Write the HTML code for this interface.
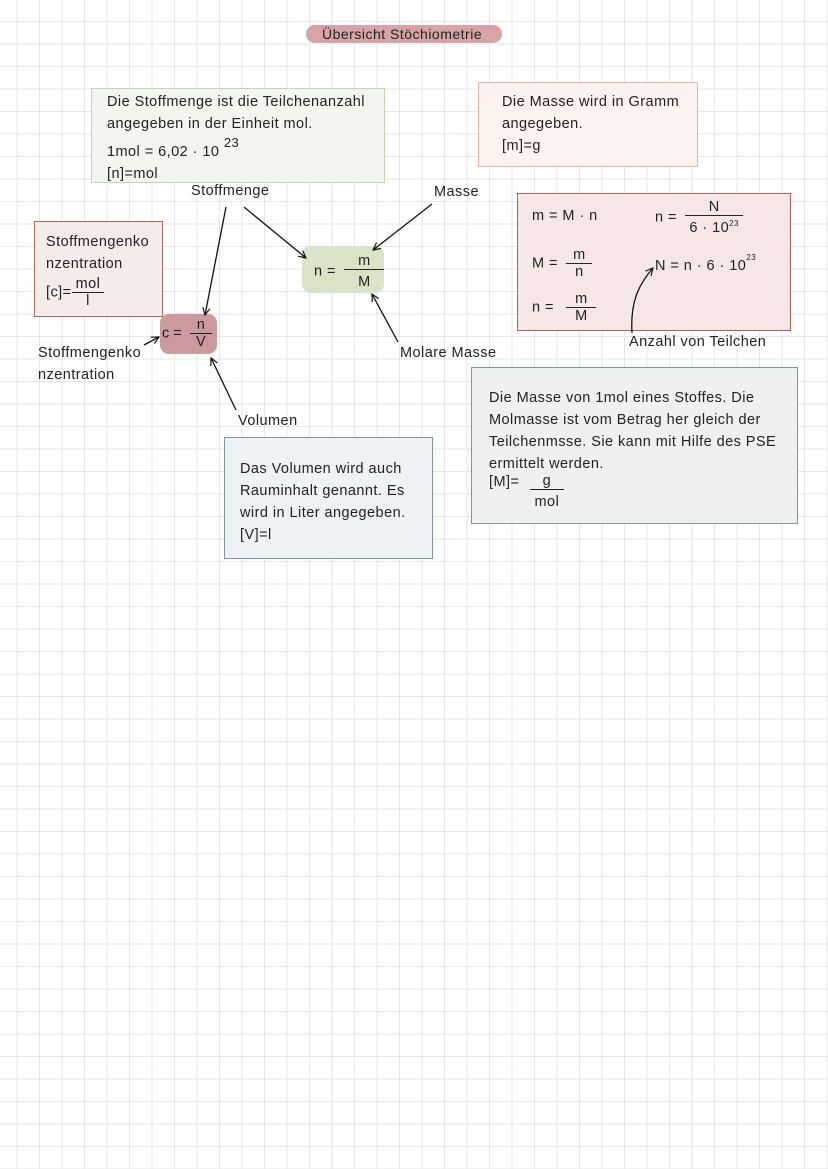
<!DOCTYPE html>
<html><head><meta charset="utf-8"><style>
body{margin:0;width:828px;height:1169px;position:relative;overflow:hidden;font-family:"Liberation Sans","DejaVu Sans",sans-serif;font-size:14.5px;letter-spacing:0.45px;color:#222;
background-color:#fff;background-image:linear-gradient(#e6e6e6 1px,transparent 1px),linear-gradient(90deg,#e6e6e6 1px,transparent 1px);background-size:22.5px 22.5px;background-position:16.5px 21px}
.a{position:absolute;line-height:22px;white-space:nowrap}
.box{position:absolute;box-sizing:border-box}
.fr{display:inline-block;vertical-align:middle;text-align:center;line-height:16px;margin-left:4px}
.fr span{display:block;padding:0 4px}
.fr span:first-child{border-bottom:1px solid #222}
</style></head><body>
<div class="box" style="left:306px;top:25px;width:196px;height:18px;background:#d6a3a7;border-radius:9px"></div>
<div class="a" style="left:322px;top:23px;font-size:14px;letter-spacing:0.5px">Übersicht Stöchiometrie</div>

<div class="box" style="left:91px;top:88px;width:294px;height:95px;background:#f3f6ee;border:1px solid #c5d3b5"></div>
<div class="a" style="left:107px;top:91px">Die Stoffmenge ist die Teilchenanzahl<br>angegeben in der Einheit mol.<br>1mol = 6,02 · 10 <sup style="font-size:13px;position:relative;top:-3px">23</sup><br>[n]=mol</div>

<div class="box" style="left:478px;top:82px;width:220px;height:85px;background:#fcf2f0;border:1px solid #e5b3a5"></div>
<div class="a" style="left:502px;top:91px">Die Masse wird in Gramm<br>angegeben.<br>[m]=g</div>

<div class="a" style="left:191px;top:180px">Stoffmenge</div>
<div class="a" style="left:434px;top:181px">Masse</div>

<div class="box" style="left:34px;top:221px;width:129px;height:96px;background:#f5ebeb;border:1px solid #a86a5f"></div>
<div class="a" style="left:46px;top:231px">Stoffmengenko<br>nzentration</div>
<div class="a" style="left:46px;top:276px;line-height:16px">[c]=<span class="fr" style="margin-left:0"><span>mol</span><span>l</span></span></div>

<div class="box" style="left:302px;top:246px;width:82px;height:47px;background:#d9e3c7;border-radius:9px"></div>
<div class="a" style="left:314px;top:253px;line-height:16px">n = <span class="fr" style="width:40px"><span>m</span><span style="margin-top:4px">M</span></span></div>

<div class="box" style="left:160px;top:314px;width:57px;height:40px;background:#cc999c;border-radius:9px"></div>
<div class="a" style="left:162px;top:317px;line-height:16px;letter-spacing:0">c = <span class="fr" style="width:22px"><span>n</span><span>V</span></span></div>

<div class="a" style="left:38px;top:342px">Stoffmengenko<br>nzentration</div>
<div class="a" style="left:400px;top:342px">Molare Masse</div>
<div class="a" style="left:238px;top:410px">Volumen</div>

<div class="box" style="left:517px;top:193px;width:274px;height:138px;background:#f7e6e6;border:1px solid #b85b5b"></div>
<div class="a" style="left:532px;top:205px">m = M · n</div>
<div class="a" style="left:655px;top:199px;line-height:16px">n = <span class="fr"><span>N</span><span>6 · 10<sup style="font-size:8px">23</sup></span></span></div>
<div class="a" style="left:532px;top:247px;line-height:16px">M = <span class="fr" style="width:26px"><span>m</span><span>n</span></span></div>
<div class="a" style="left:655px;top:251px">N = n · 6 · 10<sup style="font-size:8px;position:relative;top:-4px">23</sup></div>
<div class="a" style="left:532px;top:291px;line-height:16px">n = <span class="fr" style="width:30px;margin-left:8px"><span>m</span><span>M</span></span></div>
<div class="a" style="left:629px;top:331px">Anzahl von Teilchen</div>

<div class="box" style="left:471px;top:367px;width:327px;height:157px;background:#eef1ef;border:1px solid #7d9a8f"></div>
<div class="a" style="left:489px;top:387px">Die Masse von 1mol eines Stoffes. Die<br>Molmasse ist vom Betrag her gleich der<br>Teilchenmsse. Sie kann mit Hilfe des PSE<br>ermittelt werden.</div>
<div class="a" style="left:489px;top:473px;line-height:18px">[M]= <span class="fr" style="width:34px;vertical-align:top;margin-left:6px"><span style="border-bottom:1px solid #222">g</span><span style="margin-top:4px">mol</span></span></div>

<div class="box" style="left:224px;top:437px;width:209px;height:122px;background:#eef2f4;border:1px solid #7d97a3"></div>
<div class="a" style="left:240px;top:458px">Das Volumen wird auch<br>Rauminhalt genannt. Es<br>wird in Liter angegeben.<br>[V]=l</div>

<svg width="828" height="1169" style="position:absolute;left:0;top:0" fill="none" stroke="#111" stroke-width="1.3">
<defs><marker id="m" viewBox="0 0 10 10" refX="9" refY="5" markerWidth="7" markerHeight="7" orient="auto"><path d="M1,1 L9,5 L1,9"/></marker></defs>
<line x1="226" y1="207" x2="205" y2="315" marker-end="url(#m)"/>
<line x1="244" y1="207" x2="306" y2="258" marker-end="url(#m)"/>
<line x1="432" y1="204" x2="373" y2="250" marker-end="url(#m)"/>
<line x1="398" y1="342" x2="372" y2="294" marker-end="url(#m)"/>
<line x1="236" y1="410" x2="211" y2="358" marker-end="url(#m)"/>
<line x1="144" y1="345" x2="159" y2="337" marker-end="url(#m)"/>
<path d="M632,333 C630,300 640,283 653,268" marker-end="url(#m)"/>
</svg>
</body></html>
